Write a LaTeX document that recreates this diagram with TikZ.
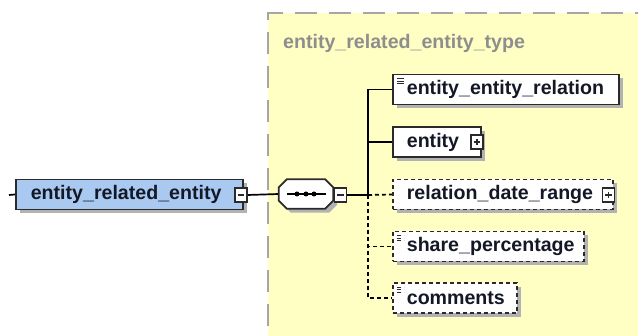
\documentclass[tikz,border=0pt]{standalone}
\usepackage{fontspec}
\setmainfont{Liberation Sans}
\usetikzlibrary{shadows}
\definecolor{panel}{HTML}{FFFFC4}
\definecolor{panelrule}{HTML}{A6A6A6}
\definecolor{titlegray}{HTML}{8E8E8E}
\definecolor{ink}{HTML}{141826}
\definecolor{edge}{HTML}{2A2A2A}
\definecolor{shade}{HTML}{B2B2B2}
\definecolor{rootfill}{HTML}{A9C9F1}
\pgfdeclarelayer{bg}
\pgfsetlayers{bg,main}
\begin{document}
\begin{tikzpicture}[x=1pt,y=-1pt,
  txt/.style={font=\bfseries\fontsize{19.6}{22}\selectfont, text=ink},
  shadowed/.style={drop shadow={shadow xshift=4pt, shadow yshift=-4pt,
    fill=shade, opacity=1}},
  elem/.style={txt, draw=edge, line width=1.7pt, fill=white, anchor=west,
    minimum height=30pt, inner xsep=14pt, inner ysep=0pt, align=left, shadowed},
  opt/.style={elem, dash pattern=on 4pt off 3pt},
  docicon/.style={path picture={
    \foreach \dy in {4,6.5,9}
      \draw[edge, line width=0.9pt]
        ([xshift=4pt,yshift=-\dy pt]path picture bounding box.north west) -- ++(7pt,0pt);}},
  tog/.style={draw=edge, fill=white, line width=1.2pt, minimum width=12pt,
    minimum height=14pt, inner sep=0pt},
  minusbox/.style={tog, path picture={
    \draw[edge, line width=1.1pt] ([xshift=-3.2pt]path picture bounding box.center)
      -- ([xshift=3.2pt]path picture bounding box.center);}},
  plusbox/.style={tog, path picture={
    \draw[edge, line width=1.1pt] ([xshift=-3.2pt]path picture bounding box.center)
      -- ([xshift=3.2pt]path picture bounding box.center)
      ([yshift=-3.2pt]path picture bounding box.center)
      -- ([yshift=3.2pt]path picture bounding box.center);}},
  wire/.style={draw=black, line width=1.7pt},
  optwire/.style={wire, dash pattern=on 4pt off 3pt},
]
\useasboundingbox (0,0) rectangle (638,336);
\clip (0,0) rectangle (638,336);

% complex type panel
\begin{pgfonlayer}{bg}
  \fill[panel] (268,13) rectangle (660,360);
  \draw[panelrule, line width=2.6pt, dash pattern=on 22pt off 12pt]
    (268,360) -- (268,13) -- (660,13);
\end{pgfonlayer}
\node[font=\bfseries\fontsize{19.6}{22}\selectfont, text=titlegray, anchor=west,
  inner sep=0pt] (title) at (283,43) {entity\_related\_entity\_type};

% root element
\node[elem, fill=rootfill, inner xsep=15pt, text width=197pt] (root)
  at (15,194.5) {entity\_related\_entity};
\node[minusbox] (rootT) at (241,195) {};

% sequence compositor: octagon drawn round an empty node
\node[minimum width=54pt, minimum height=29pt, inner sep=0pt] (seq) at (306,194) {};
\draw[draw=edge, line width=1.7pt, fill=white, shadowed]
  ([xshift=8pt]seq.north west) -- ([xshift=-8pt]seq.north east)
  -- ([yshift=-8pt]seq.north east) -- ([yshift=8pt]seq.south east)
  -- ([xshift=-8pt]seq.south east) -- ([xshift=8pt]seq.south west)
  -- ([yshift=8pt]seq.south west) -- ([yshift=-8pt]seq.north west) -- cycle;
\draw[black, line width=1.3pt] ([xshift=-19pt]seq.center) -- ([xshift=20pt]seq.center);
\foreach \dx in {-9,0,8}
  \fill[black] ([xshift=\dx pt]seq.center) circle (2.5pt);
\node[minusbox] (seqT) at (340.5,195) {};
\coordinate (hub) at (368,195);

% child elements
\node[elem, docicon, text width=198pt] (eer) at (392,89.5) {entity\_entity\_relation};
\node[elem, text width=60pt] (ent) at (392,142) {entity};
\node[plusbox] (entT) at (477,142) {};
\node[opt, text width=192pt] (rel) at (392,194.5) {relation\_date\_range};
\node[plusbox] (relT) at (608.5,195) {};
\node[opt, docicon, text width=163pt] (shr) at (392,246.5) {share\_percentage};
\node[opt, docicon, text width=96pt] (cmt) at (392,298) {comments};

% connectors
\coordinate (lead) at (9,195);
\begin{pgfonlayer}{bg}
  \draw[wire] (lead) -- (root.west);
  \draw[wire] (rootT.east) -- (seq.west);
  \draw[wire] (seqT.east) -- (hub);
  \draw[wire] (hub) |- (eer.west);
  \draw[wire] (hub) |- (ent.west);
  \draw[optwire] (hub) -- (rel.west);
  \draw[optwire] (hub) |- (shr.west);
  \draw[optwire] (hub) |- (cmt.west);
\end{pgfonlayer}
\end{tikzpicture}
\end{document}
